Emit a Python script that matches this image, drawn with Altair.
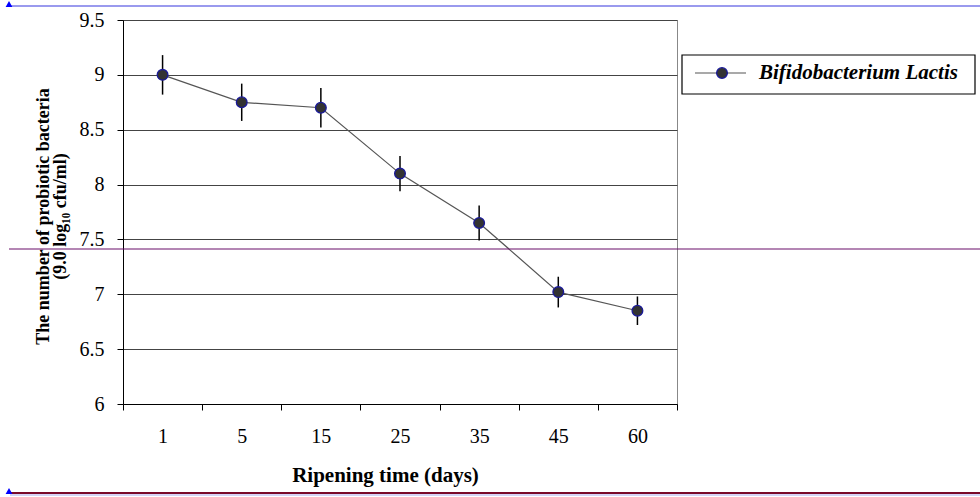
import altair as alt
import pandas as pd

# ---- data ----
days = ["1", "5", "15", "25", "35", "45", "60"]
means = [9.0, 8.75, 8.70, 8.10, 7.65, 7.02, 6.85]
errors = [0.18, 0.17, 0.18, 0.16, 0.16, 0.14, 0.13]
y_ticks = [6, 6.5, 7, 7.5, 8, 8.5, 9, 9.5]
series_name = "Bifidobacterium Lactis"
x_title = "Ripening time (days)"
y_title = ["The number of probiotic bacteria", "(9.0 log\u2081\u2080 cfu/ml)"]

df = pd.DataFrame({"day": days, "mean": means, "err": errors})
df["lo"] = df["mean"] - df["err"]
df["hi"] = df["mean"] + df["err"]

W, H = 554, 384
SERIF = "'Liberation Serif', 'Times New Roman', Times, serif"

x_enc = alt.X(
    "day:O",
    sort=days,
    scale=alt.Scale(type="band", paddingInner=0, paddingOuter=0),
    axis=alt.Axis(
        title=x_title,
        labelAngle=0,
        tickBand="extent",
        tickSize=6,
        tickColor="black",
        domainColor="black",
        labelFont=SERIF,
        labelFontSize=20,
        labelColor="black",
        labelPadding=16,
        titleFont=SERIF,
        titleFontSize=21,
        titleFontWeight="bold",
        titleColor="black",
        titleX=262,
        titleY=71,
        titleBaseline="middle",
        titleAlign="center",
        grid=False,
    ),
)
y_scale = alt.Scale(domain=[6, 9.5], nice=False, zero=False)
y_axis = alt.Axis(
    values=y_ticks,
    labelExpr="datum.value + ''",
    title=y_title,
    tickSize=6,
    tickColor="black",
    domainColor="black",
    labelFont=SERIF,
    labelFontSize=20,
    labelColor="black",
    labelPadding=13,
    grid=True,
    gridColor="#444444",
    gridWidth=1,
    gridOpacity=1,
    titleFont=SERIF,
    titleFontSize=18,
    titleFontWeight="bold",
    titleColor="black",
    titleAngle=270,
    titleAlign="center",
    titleBaseline="middle",
    titleLineHeight=17,
    titleX=-80,
    titleY=196,
)

base = alt.Chart(df)

errbars = base.mark_rule(color="black", strokeWidth=1.5).encode(
    x=x_enc,
    y=alt.Y("lo:Q", scale=y_scale, axis=y_axis),
    y2="hi:Q",
)
line = base.mark_line(color="#555555", strokeWidth=1.2).encode(
    x=alt.X("day:O", sort=days), y=alt.Y("mean:Q")
)
points = base.mark_point(
    filled=True, fill="#333333", stroke="#1a1a99", strokeWidth=1.3, size=115, opacity=1
).encode(x=alt.X("day:O", sort=days), y=alt.Y("mean:Q"))

one = pd.DataFrame({"k": [0]})
deco = alt.Chart(one)

# custom legend
leg_box = deco.mark_rect(fill="white", stroke="black", strokeWidth=1.2).encode(
    x=alt.value(559), x2=alt.value(852), y=alt.value(35), y2=alt.value(74)
)
leg_line = deco.mark_rule(color="#555555", strokeWidth=1.2).encode(
    x=alt.value(572), x2=alt.value(623), y=alt.value(53)
)
leg_pt = deco.mark_point(
    filled=True, fill="#333333", stroke="#1a1a99", strokeWidth=1.3, size=115, opacity=1
).encode(x=alt.value(599), y=alt.value(53))
leg_txt = deco.mark_text(
    font=SERIF, fontSize=21, fontWeight="bold", fontStyle="italic", color="black",
    align="left", baseline="middle",
).encode(x=alt.value(636), y=alt.value(53), text=alt.value(series_name))

# page decorations
top_line = deco.mark_rule(color="#9a9aee", strokeWidth=2).encode(
    x=alt.value(-113), x2=alt.value(857), y=alt.value(-14)
)
top_tri = deco.mark_point(shape="triangle-up", filled=True, color="#0000ff", size=45, opacity=1).encode(
    x=alt.value(-114), y=alt.value(-16)
)
mid_line = deco.mark_rule(color="#6b0f6b", strokeWidth=1.2).encode(
    x=alt.value(-114), x2=alt.value(857), y=alt.value(229)
)
bot_line = deco.mark_rule(color="#7a0a2a", strokeWidth=2).encode(
    x=alt.value(-113), x2=alt.value(857), y=alt.value(473)
)
bot_line2 = deco.mark_rule(color="#aaaaee", strokeWidth=1).encode(
    x=alt.value(-113), x2=alt.value(857), y=alt.value(475)
)
bot_tri = deco.mark_point(shape="triangle-up", filled=True, color="#0000ff", size=45, opacity=1).encode(
    x=alt.value(-114), y=alt.value(471)
)

chart = (
    alt.layer(
        errbars, line, points,
        leg_box, leg_line, leg_pt, leg_txt,
        top_line, top_tri, mid_line, bot_line, bot_line2, bot_tri,
    )
    .properties(
        width=W,
        height=H,
        autosize="none",
        padding={"left": 123, "top": 20, "right": 303, "bottom": 93},
        background="white",
    )
    .configure_view(stroke="#888888", strokeWidth=1)
)

chart.save("out.html", embed_options={"renderer": "svg", "actions": False})
